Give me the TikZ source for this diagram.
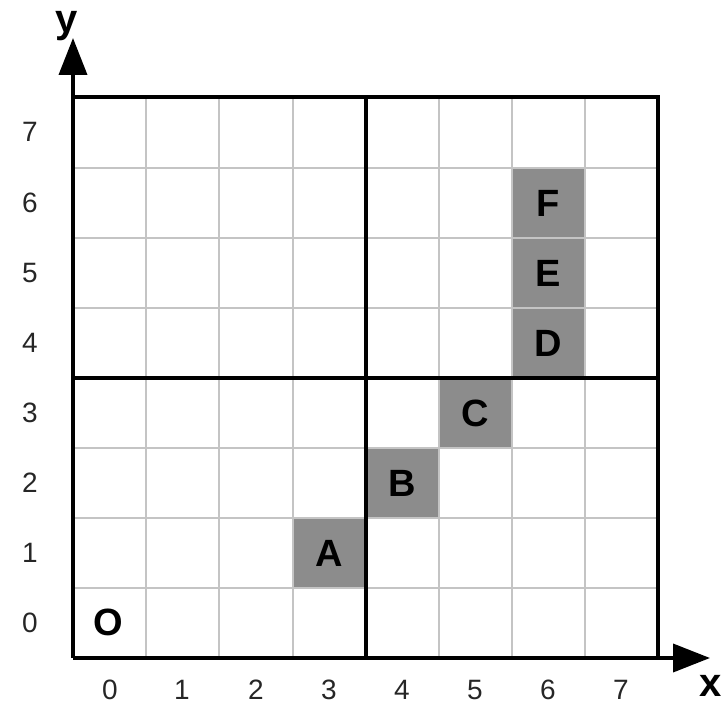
\documentclass[tikz,border=0pt]{standalone}
\usepackage{fontspec}
\setmainfont{Liberation Sans}
\usetikzlibrary{arrows.meta}
\definecolor{cellgray}{HTML}{8C8C8C}
\definecolor{gridgray}{HTML}{C4C4C4}
\tikzset{
  cellfill/.style={fill=cellgray, draw=none},
  thingrid/.style={draw=gridgray, line width=2.6pt},
  thickline/.style={draw=black, line width=3.4pt},
  axisline/.style={draw=black, line width=3.8pt, -{Triangle[length=37pt,width=28pt]}},
  ticklab/.style={font=\fontsize{28}{28}\selectfont, text=black!85},
  celllab/.style={font=\bfseries\fontsize{38}{38}\selectfont},
  axislab/.style={font=\bfseries\fontsize{40}{40}\selectfont},
}
\begin{document}
\begin{tikzpicture}[x=1pt,y=-1pt]
\useasboundingbox (0,0) rectangle (723,711);
% shaded cells
\fill[cellfill] (293,518) rectangle (366,588);
\fill[cellfill] (366,448) rectangle (439,518);
\fill[cellfill] (439,378) rectangle (512,448);
\fill[cellfill] (512,308) rectangle (585,378);
\fill[cellfill] (512,238) rectangle (585,308);
\fill[cellfill] (512,168) rectangle (585,238);
% thin grid
\foreach \x in {146,219,293,439,512,585} \draw[thingrid] (\x,97) -- (\x,658);
\foreach \y in {168,238,308,448,518,588} \draw[thingrid] (73,\y) -- (658,\y);
% thick lines
\draw[thickline] (366,97) -- (366,658);
\draw[thickline] (73,378) -- (658,378);
\draw[thickline] (73,97) -- (658,97) -- (658,658);
% axes
\coordinate (origin) at (73,658);
\coordinate (ytip) at (73,38);
\coordinate (xtip) at (710,658);
\draw[axisline] (origin) -- (ytip);
\draw[axisline] (origin) -- (xtip);
\node[axislab] (ylab) at (67,26) {y};
\node[axislab] (xlab) at (711,686) {x};
% tick labels
\foreach \i/\x in {0/110,1/182,2/256,3/329,4/402,5/475,6/548,7/621}
  \node[ticklab] (xt\i) at (\x,690) {\i};
\foreach \i/\y in {0/623,1/553,2/483,3/413,4/343,5/273,6/203,7/132}
  \node[ticklab] (yt\i) at (30,\y) {\i};
% cell labels
\node[celllab] (O) at (108,622) {O};
\node[celllab] (A) at (329,553) {A};
\node[celllab] (B) at (402,483) {B};
\node[celllab] (C) at (475,413) {C};
\node[celllab] (D) at (548,343) {D};
\node[celllab] (E) at (548,273) {E};
\node[celllab] (F) at (548,203) {F};
\end{tikzpicture}
\end{document}
